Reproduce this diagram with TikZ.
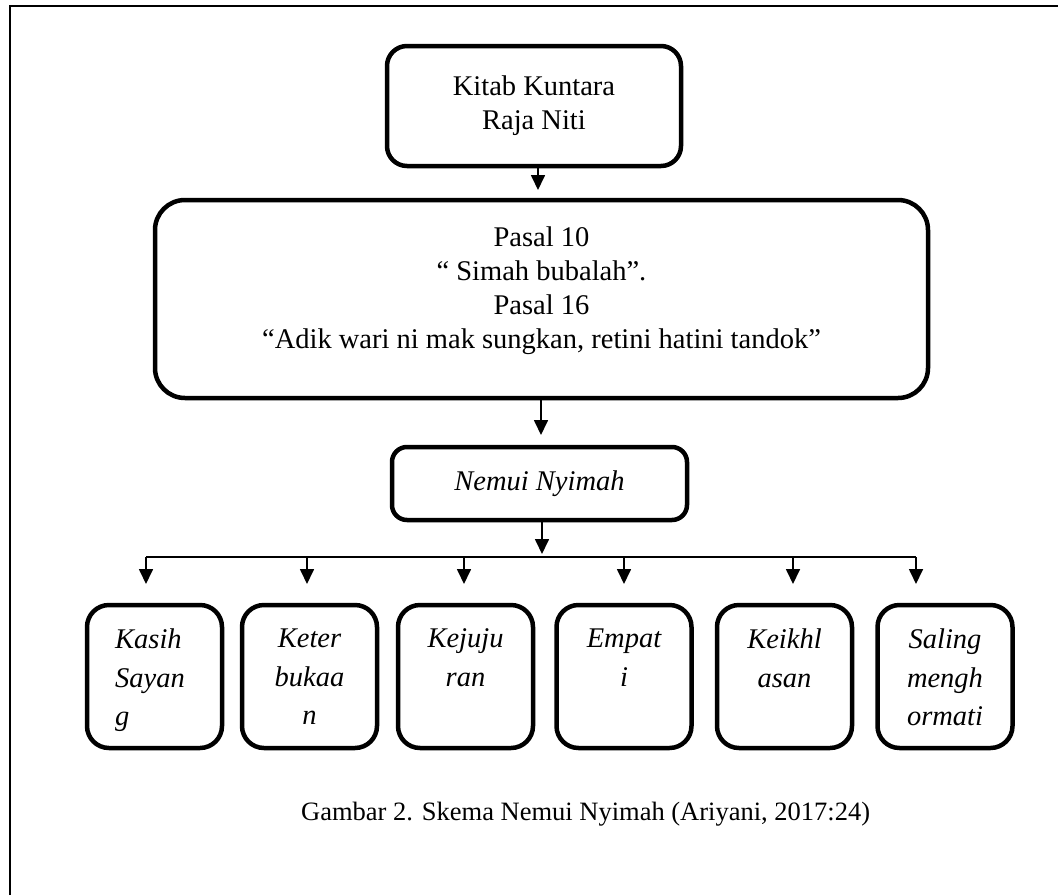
\documentclass[tikz,border=0pt]{standalone}
\usepackage{fontspec}
\setmainfont{Liberation Serif}
\usetikzlibrary{arrows.meta}
\begin{document}
\begin{tikzpicture}[x=1pt,y=-1pt,
  mainbox/.style={draw, line width=4.5pt, rounded corners=20pt, align=center,
    font=\fontsize{28.5}{34}\selectfont, inner sep=0pt},
  leaf/.style={draw, line width=4.5pt, rounded corners=22pt, minimum width=135pt,
    minimum height=143pt, inner sep=0pt},
  leaftext/.style={font=\fontsize{28.5}{38.5}\selectfont\itshape, align=center,
    inner sep=0pt, anchor=north},
  conn/.style={line width=1.7pt},
  arr/.style={conn, -{Triangle[length=15pt,width=14pt]}}]
\useasboundingbox (0,0) rectangle (1058,895);
% frame
\draw[line width=1.5pt] (10,895) -- (10,6) -- (1058,6);

% main boxes
\node[mainbox, minimum width=294pt, minimum height=120pt] (kitab) at (534,106)
  {Kitab Kuntara\\Raja Niti};
\node[mainbox, rounded corners=30pt, minimum width=773pt, minimum height=198pt] (pasal) at (541.5,299)
  {Pasal 10\\“ Simah bubalah”.\\Pasal 16\\“Adik wari ni mak sungkan, retini hatini tandok”\rule[-22pt]{0pt}{0pt}};
\node[mainbox, rounded corners=15pt, minimum width=295pt, minimum height=73pt,
  font=\fontsize{28.5}{34}\selectfont\itshape] (nemui) at (539.5,483.5) {Nemui Nyimah};

% arrows between main boxes
\coordinate (a1) at (538,190);
\draw[arr] (a1 |- kitab.south) -- (a1);
\coordinate (a2) at (541,435);
\draw[arr] (a2 |- pasal.south) -- (a2);
\coordinate (a3) at (542,554);
\draw[arr] (a3 |- nemui.south) -- (a3);

% distribution bar
\coordinate (hl) at (146,557);
\coordinate (hr) at (916,557);
\draw[conn] (hl) -- (hr);
\foreach \i/\x in {1/146,2/307,3/464,4/624,5/793,6/916}{
  \coordinate (u\i) at (\x,557);
  \coordinate (d\i) at (\x,584);
  \draw[arr] (u\i) -- (d\i);
}

% leaf boxes
\node[leaf] (b1) at (154.5,676.5) {};
\node[leaf] (b2) at (309.5,676.5) {};
\node[leaf] (b3) at (465.5,676.5) {};
\node[leaf] (b4) at (624,676.5) {};
\node[leaf] (b5) at (784.5,676.5) {};
\node[leaf] (b6) at (945,676.5) {};

\node[leaftext, anchor=north west, align=left] (t1) at ([xshift=-39.5pt,yshift=-26pt]b1.north) {Kasih\\Sayan\\g};
\node[leaftext] (t2) at ([yshift=-26pt]b2.north) {Keter\\bukaa\\n};
\node[leaftext] (t3) at ([yshift=-26pt]b3.north) {Kejuju\\ran};
\node[leaftext] (t4) at ([yshift=-26pt]b4.north) {Empat\\i};
\node[leaftext] (t5) at ([yshift=-26pt]b5.north) {Keikhl\\asan};
\node[leaftext] (t6) at ([yshift=-26pt]b6.north) {Saling\\mengh\\ormati};

% caption
\node[font=\fontsize{26.5}{30}\selectfont, anchor=base west, inner sep=0pt] (cap) at (301,820)
  {Gambar 2. Skema Nemui Nyimah (Ariyani, 2017:24)};
\end{tikzpicture}
\end{document}
